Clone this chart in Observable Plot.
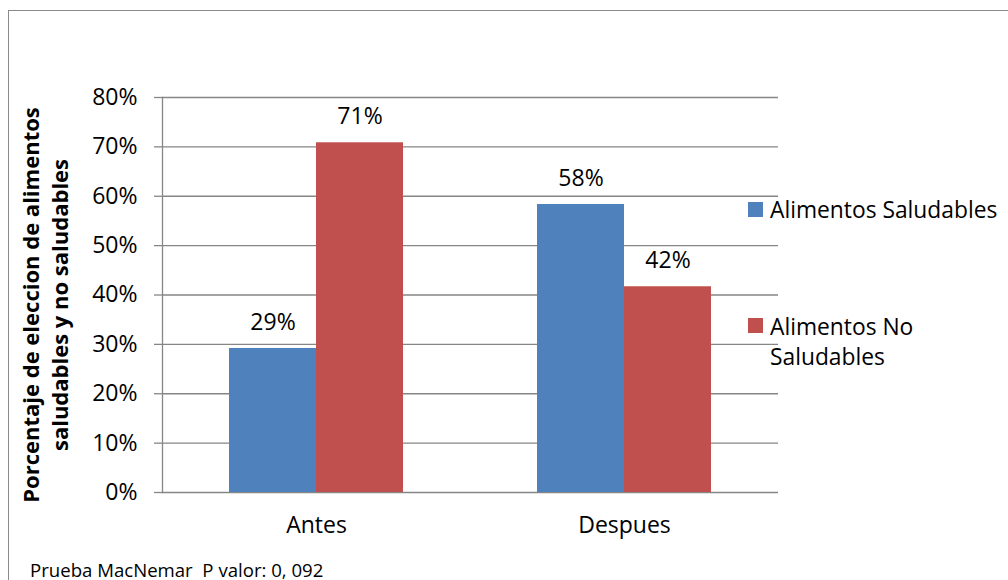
<!DOCTYPE html>
<html>
<head>
<meta charset="utf-8">
<script src="https://cdn.jsdelivr.net/npm/d3@7"></script>
<script src="https://cdn.jsdelivr.net/npm/@observablehq/plot@0.6"></script>
<style>
  html, body { margin: 0; padding: 0; background: #fff; overflow: hidden; }
  #wrap { position: relative; width: 1008px; height: 580px; font-family: "Open Sans", sans-serif; }
  #border { position: absolute; left: 8px; top: 10px; width: 1100px; height: 700px;
            border-top: 1.5px solid #8a8a8a; border-left: 1.5px solid #8a8a8a; }
  #chart { position: absolute; left: 0; top: 0; }
  .leg { position: absolute; left: 748px; font-size: 22.8px; line-height: 30px; color: #000; }
  .leg .sw { position: absolute; left: 0; width: 15px; height: 15px; }
  .leg .tx { position: absolute; left: 22px; white-space: nowrap; }
  #caption { position: absolute; left: 30px; top: 558px; font-size: 18.6px; line-height: 24px; color: #000; white-space: pre; }
</style>
</head>
<body>
<div id="wrap">
  <div id="border"></div>
  <div id="chart"></div>
  <div id="legend"></div>
  <div id="caption"></div>
</div>
<script>
const categories = ["Antes", "Despues"];
const seriesNames = ["Alimentos Saludables", "Alimentos No Saludables"];
const saludables = [29.17, 58.33];
const noSaludables = [70.83, 41.67];
const yTicks = [0, 10, 20, 30, 40, 50, 60, 70, 80];
const colors = ["#4f81bd", "#c0504d"];
const yTitle = "Porcentaje de eleccion de alimentos\nsaludables y no saludables";
const captionText = "Prueba MacNemar  P valor: 0, 092";
const legendLines = [["Alimentos Saludables"], ["Alimentos No", "Saludables"]];

const rows = [];
categories.forEach((c, i) => {
  rows.push({cat: c, series: seriesNames[0], value: saludables[i]});
  rows.push({cat: c, series: seriesNames[1], value: noSaludables[i]});
});

const gridColor = "#868686";

const chart = Plot.plot({
  width: 1008,
  height: 580,
  marginLeft: 161,
  marginRight: 230,
  marginTop: 97,
  marginBottom: 88,
  style: {fontFamily: "Open Sans, sans-serif", fontSize: "23px", color: "#000", background: "transparent"},
  fx: {domain: categories, padding: 0, label: null},
  x: {domain: seriesNames, paddingInner: 0, paddingOuter: 0.753, axis: null},
  y: {domain: [0, 80], label: null},
  color: {domain: seriesNames, range: colors},
  marks: [
    Plot.gridY(yTicks, {stroke: gridColor, strokeOpacity: 1, strokeWidth: 1.3}),
    Plot.axisY(yTicks, {tickSize: 8, tickPadding: 17, stroke: gridColor, strokeWidth: 1.3, fill: "#000",
      tickFormat: d => d + "%", fontSize: 23, label: null}),
    Plot.frame({anchor: "left", fx: ["Antes"], stroke: gridColor, strokeWidth: 1.3}),
    Plot.axisFx({anchor: "bottom", tickSize: 0, tickPadding: 24, fontSize: 23, fill: "#000", label: null}),
    Plot.barY(rows, {fx: "cat", x: "series", y: "value", fill: "series"}),
    Plot.text(rows, {fx: "cat", x: "series", y: "value", text: d => Math.round(d.value) + "%",
      dy: -26, fontSize: 23, fill: "#000"}),
    Plot.text([yTitle], {fx: ["Antes"], text: d => d, frameAnchor: "left", textAnchor: "middle",
      lineAnchor: "middle", rotate: -90, dx: -118, dy: 10,
      fontWeight: "bold", fontSize: 22, lineHeight: 1.3, fill: "#000"})
  ]
});
document.getElementById("chart").appendChild(chart);

// legend
const legend = document.getElementById("legend");
const legTops = [195, 312];
const swTops = [202, 318];
legendLines.forEach((lines, i) => {
  const item = document.createElement("div");
  item.className = "leg";
  item.style.top = "0px";
  const sw = document.createElement("div");
  sw.className = "sw";
  sw.style.background = colors[i];
  sw.style.top = swTops[i] + "px";
  const tx = document.createElement("div");
  tx.className = "tx";
  tx.style.top = legTops[i] + "px";
  tx.innerHTML = lines.join("<br>");
  item.appendChild(sw);
  item.appendChild(tx);
  legend.appendChild(item);
});
document.getElementById("caption").textContent = captionText;
</script>
</body>
</html>
